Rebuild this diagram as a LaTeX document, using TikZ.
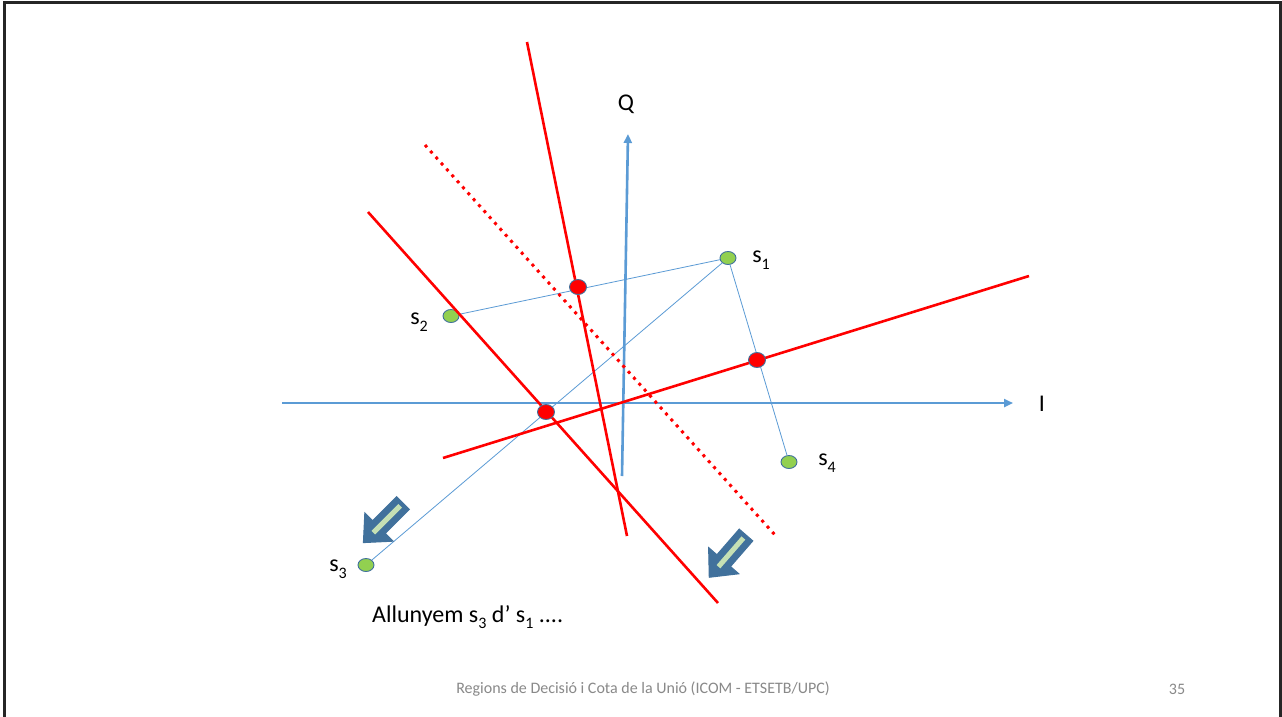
\documentclass[tikz,border=0pt]{standalone}
\usepackage{fontspec}
\setmainfont{Carlito}
\usetikzlibrary{arrows.meta}
\definecolor{axisblue}{HTML}{5B9BD5}
\definecolor{edgeblue}{HTML}{41719C}
\definecolor{ptgreen}{HTML}{92D050}
\definecolor{lightgreen}{HTML}{C5E0B4}
\definecolor{footgray}{HTML}{898989}
\newcommand{\mysub}[1]{\raisebox{-0.28em}{\fontsize{16pt}{18pt}\selectfont #1}}
\tikzset{
  axis/.style={draw=axisblue, line width=2.6pt, -{Triangle[length=9pt,width=8pt]}},
  thinline/.style={draw=axisblue, line width=0.8pt},
  redline/.style={draw=red, line width=2.6pt},
  reddots/.style={draw=red, line width=3pt, dash pattern=on 3pt off 5pt},
  sigpt/.style={ellipse, draw=edgeblue, line width=0.9pt, fill=ptgreen, minimum width=16pt, minimum height=13pt, inner sep=0pt},
  midpt/.style={ellipse, draw=edgeblue, line width=0.9pt, fill=red, minimum width=17pt, minimum height=15pt, inner sep=0pt},
  lbl/.style={font=\fontsize{24pt}{28pt}\selectfont, inner sep=0pt},
  fatarrow/.style={draw=edgeblue, fill=edgeblue, line width=1pt, line join=miter},
}
\usetikzlibrary{shapes.geometric}
\newcommand{\blockarrow}[3]{%
  \begin{scope}[shift={(#1,#2)}, rotate=#3]
    \path[fatarrow] (0,-9) -- (34,-9) -- (34,-20) -- (56,0) -- (34,20) -- (34,9) -- (0,9) -- cycle;
    \path[fill=lightgreen] (4,-2.5) -- (42,-2.5) -- (42,2.5) -- (4,2.5) -- cycle;
  \end{scope}}
\begin{document}
\begin{tikzpicture}[x=1pt,y=1pt]
\useasboundingbox (0,0) rectangle (1282,-717);
\fill[white] (0,0) rectangle (1282,-717);
% frame
\draw[line width=3pt, black!85] (4.5,-717) -- (4.5,-2.5) -- (1280.5,-2.5) -- (1280.5,-717);
% axes
\coordinate (Iend) at (1013,-403);
\coordinate (Istart) at (282,-403);
\coordinate (Qstart) at (622,-476);
\coordinate (Qend) at (628,-134);
\draw[axis] (Istart) -- (Iend);
\draw[axis] (Qstart) -- (Qend);
\node[lbl] (I) at (1042,-404) {I};
\node[lbl] (Q) at (626,-104) {Q};
% signal points
\node[sigpt] (s1) at (728,-258) {};
\node[sigpt] (s2) at (451,-316) {};
\node[sigpt] (s3) at (366,-565) {};
\node[sigpt] (s4) at (789,-462) {};
\draw[thinline] (s1) -- (s2);
\draw[thinline] (s1) -- (s3);
\draw[thinline] (s1) -- (s4);
% bisectors
\coordinate (a1) at (527,-42);
\coordinate (a2) at (627,-536);
\coordinate (b1) at (368,-212);
\coordinate (b2) at (718,-603);
\coordinate (c1) at (443,-458);
\coordinate (c2) at (1029,-276);
\coordinate (d1) at (425,-145);
\coordinate (d2) at (775,-535);
\draw[redline] (a1) -- (a2);
\draw[redline] (b1) -- (b2);
\draw[redline] (c1) -- (c2);
\draw[reddots] (d1) -- (d2);
% midpoints
\node[midpt] (m12) at (578,-287) {};
\node[midpt] (m13) at (546,-412) {};
\node[midpt] (m14) at (757,-360) {};
% labels
\node[lbl] (l1) at (761,-260) {s\mysub{1}};
\node[lbl] (l2) at (419,-322) {s\mysub{2}};
\node[lbl] (l3) at (338,-569) {s\mysub{3}};
\node[lbl] (l4) at (827,-463) {s\mysub{4}};
\node[lbl, anchor=west] (txt) at (372,-617) {Allunyem s\mysub{3} d’ s\mysub{1} ....};
% block arrows
\blockarrow{403}{-503}{225}
\blockarrow{746}{-535}{229}
% footer
\node[font=\fontsize{16pt}{18pt}\selectfont, text=footgray] (foot) at (643,-689) {Regions de Decisió i Cota de la Unió (ICOM - ETSETB/UPC)};
\node[font=\fontsize{16pt}{18pt}\selectfont, text=footgray] (pg) at (1177,-689) {35};
\end{tikzpicture}
\end{document}
